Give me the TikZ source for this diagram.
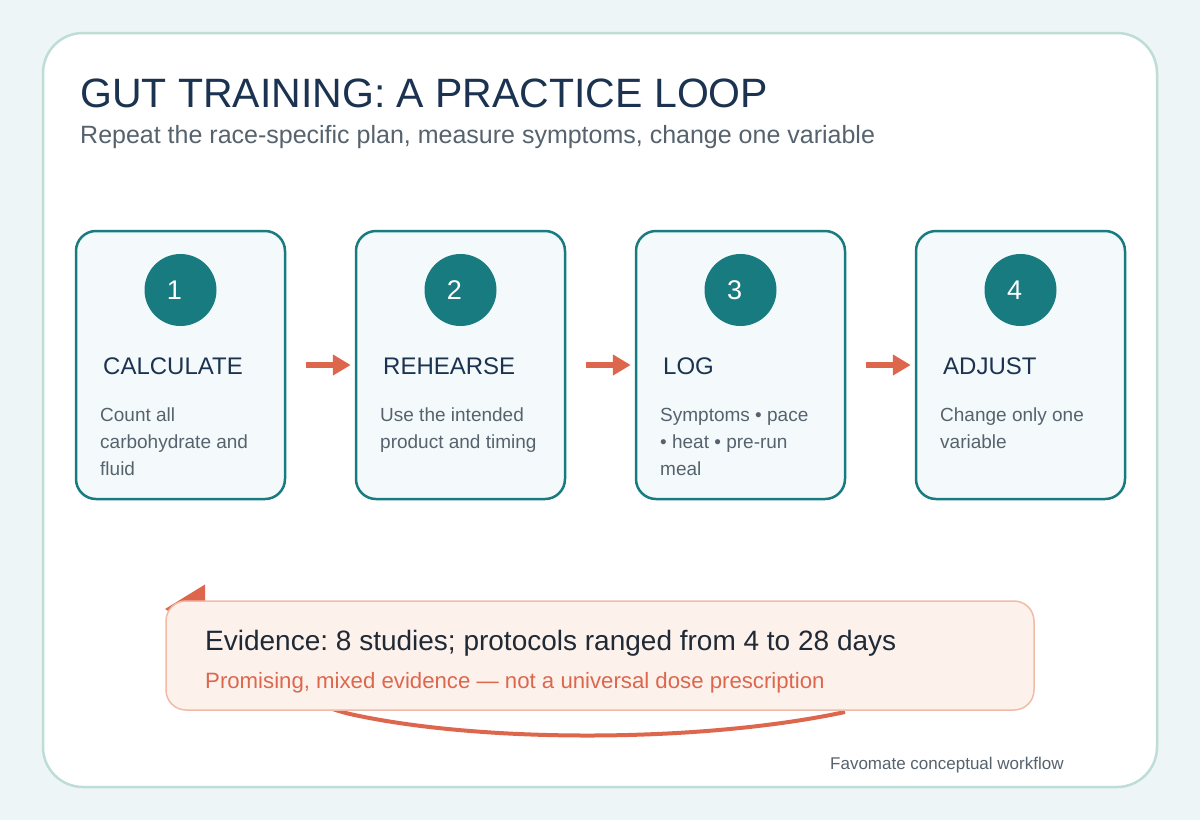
\documentclass[tikz,border=0pt]{standalone}
\usepackage{fontspec}
\setmainfont{Liberation Sans}
\usetikzlibrary{arrows.meta,positioning}
\frenchspacing

\definecolor{pagebg}{HTML}{EEF5F6}
\definecolor{cardline}{HTML}{BEDDD7}
\definecolor{teal}{HTML}{177B80}
\definecolor{boxfill}{HTML}{F4FAFB}
\definecolor{navy}{HTML}{1B3350}
\definecolor{slate}{HTML}{56636E}
\definecolor{coral}{HTML}{DD674D}
\definecolor{evfill}{HTML}{FDF1EC}
\definecolor{evline}{HTML}{F0BBA8}
\definecolor{ink}{HTML}{1F2A36}

\tikzset{
  stepbox/.style={draw=teal, line width=2.5pt, fill=boxfill, rounded corners=20pt,
                  minimum width=209pt, minimum height=268pt, inner sep=0pt},
  badge/.style={circle, fill=teal, text=white, minimum size=72pt, inner sep=0pt,
                font=\fontsize{27}{27}\selectfont, execute at begin node=\kern-12pt},
  heading/.style={anchor=base west, inner sep=0pt, text=navy,
                  font=\fontsize{24}{24}\selectfont},
  body/.style={anchor=north west, inner sep=0pt, align=left, text=slate,
               font=\fontsize{19}{27}\selectfont},
  flowarrow/.style={draw=coral, line width=6pt, -{Triangle[length=18pt,width=20pt]},
                    shorten <=20pt, shorten >=4pt}
}

\begin{document}
\begin{tikzpicture}[x=1pt, y=-1pt]
  % Page and card
  \fill[pagebg] (0,0) rectangle (1200,820);
  \useasboundingbox (0,0) rectangle (1200,820);
  \draw[cardline, line width=2.5pt, fill=white, rounded corners=40pt] (43,33) rectangle (1157,787);

  % Title
  \node[anchor=base west, inner sep=0pt, text=navy, font=\fontsize{41}{41}\selectfont]
    (title) at (80,107) {GUT TRAINING: A PRACTICE LOOP};
  \node[anchor=base west, inner sep=0pt, text=slate, font=\fontsize{25}{25}\selectfont]
    (subtitle) at (80,143) {Repeat the race-specific plan, measure symptoms, change one variable};

  % Steps
  \node[stepbox] (calc) at (180.5,365) {};
  \node[stepbox] (rehearse) at (460.5,365) {};
  \node[stepbox] (log) at (740.5,365) {};
  \node[stepbox] (adjust) at (1020.5,365) {};

  \node[badge] (n1) at (180.5,290) {1};
  \node[badge] (n2) at (460.5,290) {2};
  \node[badge] (n3) at (740.5,290) {3};
  \node[badge] (n4) at (1020.5,290) {4};

  \node[heading] (calch) at (103,374) {CALCULATE};
  \node[heading] (rehearseh) at (383,374) {REHEARSE};
  \node[heading] (logh) at (663,374) {LOG};
  \node[heading] (adjusth) at (943,374) {ADJUST};

  \node[body] (calct) at (100,408) {Count all\\carbohydrate and\\fluid};
  \node[body] (rehearset) at (380,408) {Use the intended\\product and timing};
  \node[body] (logt) at (660,408) {Symptoms • pace\\• heat • pre-run\\meal};
  \node[body] (adjustt) at (940,408) {Change only one\\variable};

  \draw[flowarrow] (calc.east) -- (rehearse.west);
  \draw[flowarrow] (rehearse.east) -- (log.west);
  \draw[flowarrow] (log.east) -- (adjust.west);

  % Loop back
  \coordinate (loopstart) at (845,712);
  \coordinate (loopend) at (165,609);
  \draw[coral, line width=4pt, -{Triangle[length=40pt,width=48pt]}]
    (loopstart) .. controls (700,743) and (480,743) .. (350,714)
    .. controls (250,690) and (240,609) .. (loopend);

  % Evidence
  \node[draw=evline, line width=1.5pt, fill=evfill, rounded corners=20pt,
        minimum width=868pt, minimum height=109pt] (evidence) at (600,655.5) {};
  \node[anchor=base west, inner sep=0pt, text=ink, font=\fontsize{28}{28}\selectfont]
    (evmain) at (205,650) {Evidence: 8 studies; protocols ranged from 4 to 28 days};
  \node[anchor=base west, inner sep=0pt, text=coral, font=\fontsize{22.2}{22.2}\selectfont]
    (evnote) at (205,688) {Promising, mixed evidence — not a universal dose prescription};

  \node[anchor=base west, inner sep=0pt, text=slate, font=\fontsize{17}{17}\selectfont]
    (footer) at (830,769) {Favomate conceptual workflow};
\end{tikzpicture}
\end{document}
